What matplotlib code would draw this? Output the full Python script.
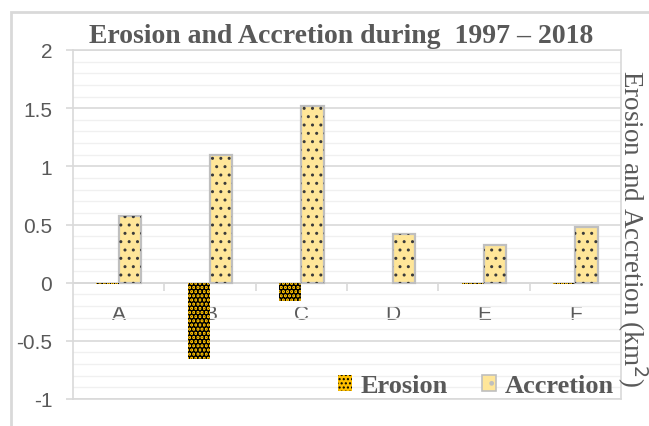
import matplotlib as mpl
import matplotlib.pyplot as plt
import numpy as np

sites = ['A', 'B', 'C', 'D', 'E', 'F']
erosion = [-0.015, -0.655, -0.155, 0.0, -0.012, -0.012]
accretion = [0.57, 1.10, 1.52, 0.42, 0.32, 0.48]

grey_txt = '#595959'

fig = plt.figure(figsize=[6.49, 4.27], dpi=100)
ax = fig.add_axes([73/649, 27/427, 548/649, 349/427])

# outer chart border
fig.patches.append(mpl.patches.Rectangle(
  (11/649, -0.05), 1.0, (427 - 13)/427 + 0.05,
  transform=fig.transFigure, fill=False, edgecolor='#D9D9D9', linewidth=2))

x = np.arange(len(sites))
w = 0.245

# erosion: gold fill with dense black dots
ax.bar(x - w/2, erosion, w, color='#FFC000', edgecolor='none', zorder=3)
with plt.rc_context({'hatch.linewidth': 3.0}):
  ax.bar(x - w/2, erosion, w, color='none', edgecolor='black', hatch='....',
         linewidth=0, zorder=4)
# accretion: pale yellow with sparse dark marks
ax.bar(x + w/2, accretion, w, color='#FFE699', edgecolor='#BFBFBF',
       linewidth=1.6, zorder=3)
with plt.rc_context({'hatch.linewidth': 1.0}):
  ax.bar(x + w/2, accretion, w, color='none', edgecolor='#3a3a3a', hatch='..',
         linewidth=0, zorder=4)

ax.set_xlim(-0.5, 5.5)
ax.set_ylim(-1, 2)
ax.yaxis.set_major_locator(mpl.ticker.MultipleLocator(0.5))
ax.yaxis.set_minor_locator(mpl.ticker.MultipleLocator(0.1))
ax.yaxis.set_major_formatter(mpl.ticker.FuncFormatter(lambda v, p: f'{v:g}'))
ax.grid(axis='y', which='major', color='#D9D9D9', linewidth=1.2, zorder=0)
ax.grid(axis='y', which='minor', color='#F0F0F0', linewidth=1.0, zorder=0)
ax.set_axisbelow(True)

# category axis sitting at zero
ax.set_xticks(np.arange(0.5, 5.5, 1.0))
ax.set_xticklabels([])
ax.set_xticks(x, minor=True)
ax.set_xticklabels(sites, minor=True, fontsize=15, color=grey_txt,
                   family='Liberation Sans')
ax.tick_params(axis='x', which='major', length=6, color='#D9D9D9', width=1.2,
               direction='out')
ax.tick_params(axis='x', which='minor', length=0)
ax.axhline(0, color='#D9D9D9', linewidth=1.4, zorder=2)
blend = mpl.transforms.blended_transform_factory(ax.transData, ax.transData)
for t in ax.xaxis.get_major_ticks():
  t.tick1line.set_transform(blend)
  t.tick1line.set_ydata([0])
for t in ax.xaxis.get_minor_ticks():
  t.label1.set_transform(blend + mpl.transforms.ScaledTranslation(
    0, -21/100, fig.dpi_scale_trans))
  t.label1.set_y(0)

ax.tick_params(axis='y', which='major', length=5, color='#D9D9D9', width=1.2,
               pad=10, labelsize=15, labelcolor=grey_txt)
ax.tick_params(axis='y', which='minor', length=0)
for s in ax.spines.values():
  s.set_color('#D9D9D9')
  s.set_linewidth(1.2)

for lab in ax.get_yticklabels():
  lab.set_family('Liberation Sans')

ax.set_title('Erosion and Accretion during  1997 – 2018', family='Liberation Serif',
             fontweight='bold', fontsize=20, color=grey_txt, pad=6, x=0.49)

fig.text(632/649, 1 - 229/427, 'Erosion and Accretion (km$^2$)', rotation=-90,
         family='Liberation Serif', fontsize=19.5, color=grey_txt,
         ha='center', va='center')

with plt.rc_context({'hatch.linewidth': 3.0}):
  h1 = mpl.patches.Patch(facecolor='#FFC000', edgecolor='black', hatch='....',
                         linewidth=0)
with plt.rc_context({'hatch.linewidth': 1.0}):
  h2 = mpl.patches.Patch(facecolor='#FFE699', edgecolor='#BFBFBF', hatch='.',
                         linewidth=1.2)
leg = ax.legend([h1, h2], ['Erosion', 'Accretion'], ncol=2, frameon=False,
                loc='lower right', bbox_to_anchor=(1.015, -0.04),
                prop={'family': 'Liberation Serif', 'weight': 'bold', 'size': 19},
                handlelength=0.55, handleheight=0.55, handletextpad=0.3,
                columnspacing=1.3, borderaxespad=0.2)
for t in leg.get_texts():
  t.set_color(grey_txt)

fig.savefig('out.png', dpi=100)
